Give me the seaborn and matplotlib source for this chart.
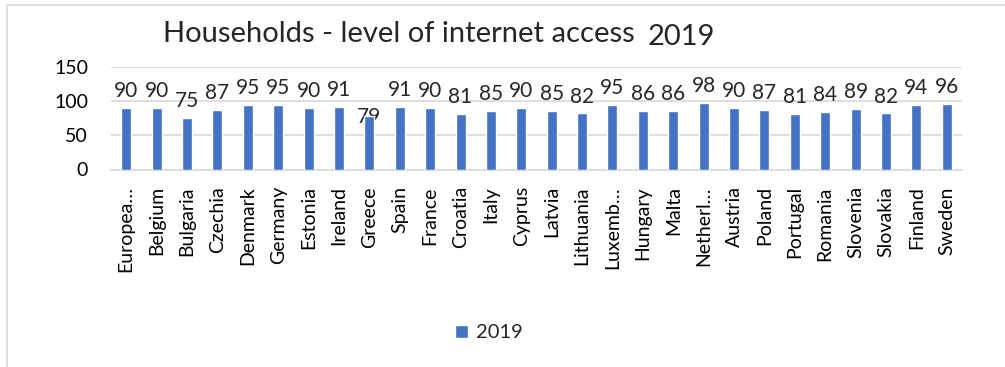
import matplotlib
matplotlib.use("Agg")
import matplotlib.pyplot as plt
import seaborn as sns
import pandas as pd
from matplotlib.patches import Rectangle, Patch

countries = ["Europea…", "Belgium", "Bulgaria", "Czechia", "Denmark", "Germany", "Estonia",
             "Ireland", "Greece", "Spain", "France", "Croatia", "Italy", "Cyprus", "Latvia",
             "Lithuania", "Luxemb…", "Hungary", "Malta", "Netherl…", "Austria", "Poland",
             "Portugal", "Romania", "Slovenia", "Slovakia", "Finland", "Sweden"]
values_2019 = [90, 90, 75, 87, 95, 95, 90, 91, 79, 91, 90, 81, 85, 90, 85,
               82, 95, 86, 86, 98, 90, 87, 81, 84, 89, 82, 94, 96]
yticks = [0, 50, 100, 150]
series_name = "2019"

df = pd.DataFrame({"country": countries, "value": values_2019})

sns.set_theme(style="white")
plt.rcParams['font.family'] = ['Lato', 'DejaVu Sans']

W, H = 1005, 367
fig = plt.figure(figsize=(W / 100, H / 100), dpi=100)
ax = fig.add_axes([111 / W, 1 - 169.5 / H, (962 - 111) / W, (169.5 - 67) / H])

blue = "#4472C4"
sns.barplot(data=df, x="country", y="value", color=blue, width=0.33,
            saturation=1, ax=ax, zorder=3)

ax.set_ylim(0, 150)
ax.set_yticks(yticks)
ax.set_xlim(-0.5, len(countries) - 0.5)
ax.yaxis.grid(True, color="#D9D9D9", linewidth=1.2, zorder=0)
ax.set_axisbelow(True)
for s in ["top", "right", "left"]:
    ax.spines[s].set_visible(False)
ax.spines["bottom"].set_color("#D9D9D9")
ax.spines["bottom"].set_linewidth(1.2)
ax.set_xlabel("")
ax.set_ylabel("")
ax.tick_params(axis="x", rotation=90, labelsize=14, length=0, pad=12, labelcolor="black")
ax.tick_params(axis="y", labelsize=14, length=0, pad=16.5, labelcolor="black")
for lbl in ax.get_xticklabels():
    lbl.set_verticalalignment("top")

for i, v in enumerate(values_2019):
    if countries[i] == "Greece":
        ax.annotate(str(v), (i, v), xytext=(0, -8), textcoords="offset points",
                    ha="center", va="bottom", fontsize=15, zorder=1)
    else:
        ax.annotate(str(v), (i, v), xytext=(0, 5), textcoords="offset points",
                    ha="center", va="bottom", fontsize=15, zorder=4)

fig.text(163 / W, 1 - 34 / H, "Households - level of internet access", fontsize=21,
         ha="left", va="center")
fig.text(648 / W, 1 - 37 / H, "2019", fontsize=21, ha="left", va="center")

fig.legend(handles=[Patch(facecolor=blue, label=series_name)], loc="center",
           bbox_to_anchor=(489 / W, 1 - 333 / H), frameon=False, fontsize=14.5,
           handlelength=0.65, handleheight=0.65, handletextpad=0.4)

fig.patches.append(Rectangle((7 / W, -0.1), 1.2, 1 - 5 / H + 0.1, transform=fig.transFigure,
                             fill=False, edgecolor="#D9D9D9", linewidth=1.2))

fig.savefig("out.png", dpi=100)
